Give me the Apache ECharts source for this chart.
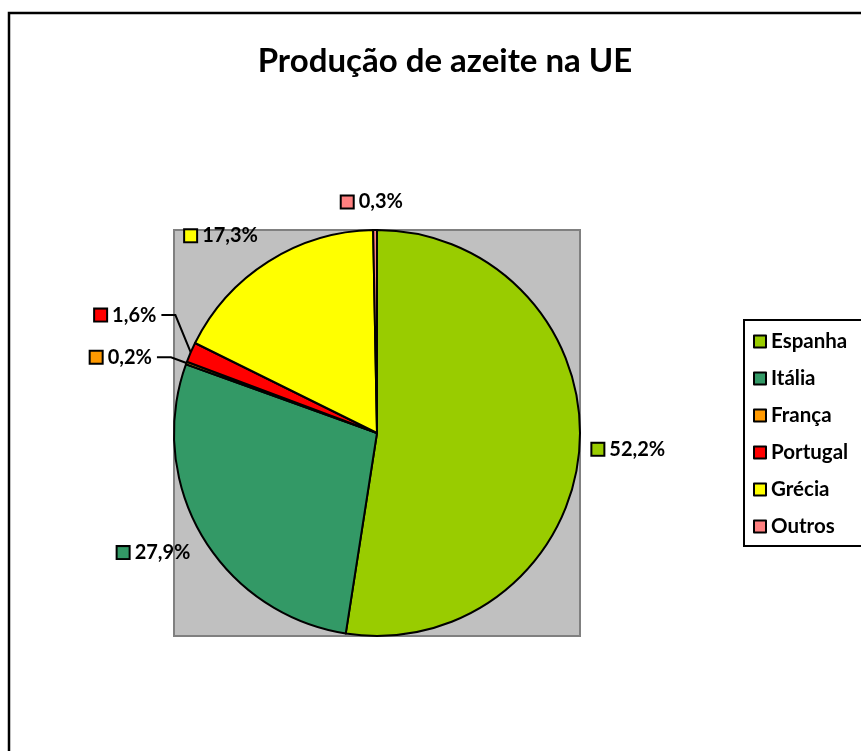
<!DOCTYPE html>
<html>
<head>
<meta charset="utf-8">
<script src="https://cdn.jsdelivr.net/npm/echarts@6/dist/echarts.min.js"></script>
<style>
    html, body { margin: 0; padding: 0; background: #fff; }
    #main { width: 861px; height: 751px; }
</style>
</head>
<body>
<div id="main"></div>
<script>
// dados do gráfico
var paises = ['Espanha', 'Itália', 'França', 'Portugal', 'Grécia', 'Outros'];
var producao = [52.2, 27.9, 0.2, 1.6, 17.3, 0.3];
var cores = ['#99cc00', '#339966', '#ff9900', '#ff0000', '#ffff00', '#ff8080'];
// só os rótulos pequenos têm linha de ligação
var comLinha = [false, false, true, true, false, false];

var fonte = 'Lato, "Open Sans", sans-serif';
var cx = 377, cy = 433, raio = 203;

// ajuste manual dos rótulos (como no Excel)
var ajusteRotulo = [
    [-12, 0], [12, 12], [-10, -3], [-10, -34], [11, -19], [45, -20]
];

var chart = echarts.init(document.getElementById('main'));

var rich = {
    t: { fontFamily: fonte, fontWeight: 'bold', fontSize: 20, color: '#000', padding: [0, 0, 0, 6] }
};
for (var i = 0; i < cores.length; i++) {
    rich['s' + i] = {
        width: 11, height: 11,
        backgroundColor: cores[i],
        borderColor: '#000', borderWidth: 2
    };
}

var dados = [];
for (var i = 0; i < paises.length; i++) {
    dados.push({
        name: paises[i],
        value: producao[i],
        itemStyle: { color: cores[i] },
        labelLine: { show: comLinha[i] }
    });
}

var option = {
    backgroundColor: '#fff',
    animation: false,
    title: {
        text: 'Produção de azeite na UE',
        left: 440,
        top: 40,
        textAlign: 'center',
        textStyle: { fontFamily: fonte, fontWeight: 'bold', fontSize: 33, color: '#000' }
    },
    legend: {
        orient: 'vertical',
        left: 744,
        top: 320,
        data: paises,
        icon: 'rect',
        itemWidth: 12,
        itemHeight: 12,
        itemGap: 16,
        padding: [11, 30, 9, 9],
        borderColor: '#000',
        borderWidth: 2,
        itemStyle: { borderColor: '#000', borderWidth: 2 },
        textStyle: { fontFamily: fonte, fontWeight: 'bold', fontSize: 20.5, color: '#000' }
    },
    graphic: [
        {
            // moldura exterior
            type: 'rect', z: 0,
            shape: { x: 9, y: 13, width: 900, height: 800 },
            style: { fill: '#fff', stroke: '#000', lineWidth: 2.5 }
        },
        {
            // área do gráfico (cinzenta)
            type: 'rect', z: 1,
            shape: { x: cx - raio, y: cy - raio, width: raio * 2, height: raio * 2 },
            style: { fill: '#c0c0c0', stroke: '#808080', lineWidth: 2 }
        }
    ],
    series: [
        {
            type: 'pie',
            z: 5,
            center: [cx, cy],
            radius: raio,
            startAngle: 90,
            clockwise: true,
            avoidLabelOverlap: false,
            itemStyle: { borderColor: '#000', borderWidth: 2 },
            emphasis: { disabled: true },
            label: {
                show: true,
                position: 'outside',
                formatter: function (p) {
                    return '{s' + p.dataIndex + '|}{t|' + p.value.toFixed(1).replace('.', ',') + '%}';
                },
                rich: rich
            },
            labelLine: {
                length: 8,
                length2: 12,
                lineStyle: { color: '#000', width: 2 }
            },
            labelLayout: function (p) {
                var a = ajusteRotulo[p.dataIndex];
                var res = { dx: a[0], dy: a[1] };
                if (comLinha[p.dataIndex] && p.labelLinePoints) {
                    // linha: da fatia até ao lado direito do rótulo deslocado
                    var r = p.labelRect;
                    var xFim = r.x + r.width + a[0] + 5;
                    var yFim = r.y + r.height / 2 + a[1];
                    res.labelLinePoints = [
                        p.labelLinePoints[0],
                        [xFim + 14, yFim],
                        [xFim, yFim]
                    ];
                }
                return res;
            },
            data: dados
        }
    ]
};

chart.setOption(option);
</script>
</body>
</html>
